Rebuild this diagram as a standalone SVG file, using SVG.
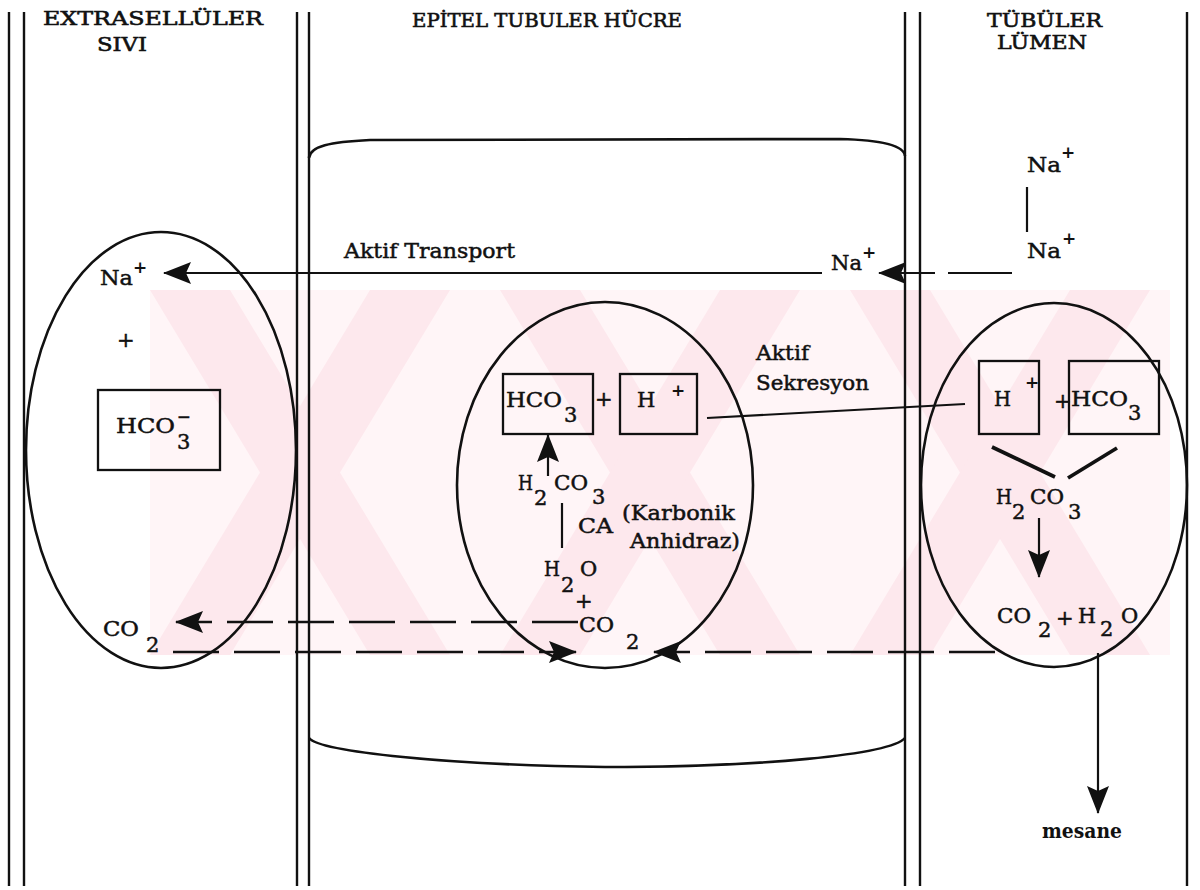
<svg xmlns="http://www.w3.org/2000/svg" width="1200" height="890" viewBox="0 0 1200 890">
<style>
  .t { font-family: "DejaVu Serif", "Liberation Serif", serif; font-size: 21px; fill: #111; stroke: #111; stroke-width: 0.5; }
  .h { font-family: "DejaVu Serif", "Liberation Serif", serif; font-size: 19px; fill: #111; stroke: #111; stroke-width: 0.6; }
  .sup { font-family: "DejaVu Serif", "Liberation Serif", serif; font-size: 17px; font-weight: bold; fill: #111; }
  .b { font-weight: bold; stroke-width: 0; }
  .wall { stroke: #111; stroke-width: 2.4; fill: none; }
  .shape { stroke: #111; stroke-width: 2.6; fill: none; }
  .box { stroke: #111; stroke-width: 2.3; fill: none; }
  .ln { stroke: #111; stroke-width: 2.2; fill: none; }
  .thick { stroke: #111; stroke-width: 3.8; fill: none; }
  .dash { stroke: #111; stroke-width: 2.3; fill: none; stroke-dasharray: 46 15; }
  .wm { fill: #fde8ed; }
</style>
<defs>
  <marker id="ah" markerUnits="userSpaceOnUse" markerWidth="28" markerHeight="22" refX="27" refY="11" orient="auto">
    <path d="M0,0 L28,11 L0,22 L5,11 z" fill="#111"/>
  </marker>
  <clipPath id="wmclip"><rect x="150" y="290" width="1020" height="365"/></clipPath>
</defs>
<rect width="1200" height="890" fill="#fff"/>

<g id="watermark" clip-path="url(#wmclip)">
  <rect x="150" y="290" width="1020" height="365" fill="#fff5f7"/>
  <polygon class="wm" points="150,290 230,290 450,655 370,655"/>
  <polygon class="wm" points="370,290 450,290 230,655 150,655"/>
  <polygon class="wm" points="500,290 580,290 800,655 720,655"/>
  <polygon class="wm" points="720,290 800,290 580,655 500,655"/>
  <polygon class="wm" points="850,290 930,290 1150,655 1070,655"/>
  <polygon class="wm" points="1070,290 1150,290 930,655 850,655"/>
</g>

<g id="walls">
  <line class="wall" x1="9" y1="12" x2="9" y2="886"/>
  <line class="wall" x1="24" y1="12" x2="24" y2="886"/>
  <line class="wall" x1="297" y1="12" x2="297" y2="886"/>
  <line class="wall" x1="309" y1="12" x2="309" y2="886"/>
  <line class="wall" x1="905" y1="12" x2="905" y2="886"/>
  <line class="wall" x1="920" y1="12" x2="920" y2="886"/>
  <line class="wall" x1="1187" y1="12" x2="1187" y2="886"/>
</g>

<g id="titles">
  <text class="h" x="43" y="25" textLength="220" lengthAdjust="spacingAndGlyphs">EXTRASELLÜLER</text>
  <text class="h" x="97" y="51" textLength="50" lengthAdjust="spacingAndGlyphs">SIVI</text>
  <text class="h" x="412" y="27" textLength="270" lengthAdjust="spacingAndGlyphs">EPİTEL TUBULER HÜCRE</text>
  <text class="h" x="987" y="27" textLength="115" lengthAdjust="spacingAndGlyphs">TÜBÜLER</text>
  <text class="h" x="997" y="49" textLength="90" lengthAdjust="spacingAndGlyphs">LÜMEN</text>
</g>

<g id="cell">
  <path class="shape" d="M309,158 C310,146 330,142 370,140 L840,139 C880,140 904,145 905,156"/>
  <path class="shape" d="M309,738 C320,752 450,765 605,767 C760,767 890,755 905,738"/>
</g>

<g id="extracellular">
  <ellipse class="shape" cx="161" cy="450" rx="135" ry="218"/>
  <text class="t" x="100" y="285" textLength="33" lengthAdjust="spacingAndGlyphs">Na</text>
  <text class="sup" x="133" y="273">+</text>
  <text class="t" x="117" y="347">+</text>
  <rect class="box" x="98" y="390" width="122" height="80"/>
  <text class="t" x="116" y="433" textLength="59" lengthAdjust="spacingAndGlyphs">HCO</text>
  <text class="t" x="177" y="449">3</text>
  <text class="t" x="177" y="424" textLength="14" lengthAdjust="spacingAndGlyphs">−</text>
  <text class="t" x="103" y="636" textLength="36" lengthAdjust="spacingAndGlyphs">CO</text>
  <text class="t" x="146" y="652">2</text>
</g>

<g id="epithelial">
  <ellipse class="shape" cx="605" cy="485" rx="148" ry="183"/>
  <text class="t" x="344" y="258" textLength="171" lengthAdjust="spacingAndGlyphs">Aktif Transport</text>
  <text class="t" x="831" y="270" textLength="31" lengthAdjust="spacingAndGlyphs">Na</text>
  <text class="sup" x="862" y="258">+</text>
  <rect class="box" x="503" y="374" width="90" height="60"/>
  <text class="t" x="506" y="407" textLength="56" lengthAdjust="spacingAndGlyphs">HCO</text>
  <text class="t" x="564" y="422">3</text>
  <text class="t" x="595" y="406">+</text>
  <rect class="box" x="620" y="374" width="77" height="60"/>
  <text class="t" x="637" y="407">H</text>
  <text class="sup" x="671" y="396">+</text>
  <text class="t" x="756" y="360" textLength="53" lengthAdjust="spacingAndGlyphs">Aktif</text>
  <text class="t" x="756" y="390" textLength="113" lengthAdjust="spacingAndGlyphs">Sekresyon</text>
  <text class="t" x="518" y="490" textLength="15" lengthAdjust="spacingAndGlyphs">H</text>
  <text class="t" x="534" y="505">2</text>
  <text class="t" x="554" y="490" textLength="34" lengthAdjust="spacingAndGlyphs">CO</text>
  <text class="t" x="592" y="504">3</text>
  <text class="t" x="578" y="533" textLength="35" lengthAdjust="spacingAndGlyphs">CA</text>
  <text class="t" x="622" y="520" textLength="113" lengthAdjust="spacingAndGlyphs">(Karbonik</text>
  <text class="t" x="630" y="548" textLength="110" lengthAdjust="spacingAndGlyphs">Anhidraz)</text>
  <text class="t" x="544" y="576" textLength="16" lengthAdjust="spacingAndGlyphs">H</text>
  <text class="t" x="561" y="592">2</text>
  <text class="t" x="580" y="576">O</text>
  <text class="t" x="575" y="608">+</text>
  <text class="t" x="579" y="632" textLength="35" lengthAdjust="spacingAndGlyphs">CO</text>
  <text class="t" x="626" y="649">2</text>
</g>

<g id="lumen">
  <ellipse class="shape" cx="1054" cy="485" rx="133" ry="182"/>
  <text class="t" x="1027" y="172" textLength="34" lengthAdjust="spacingAndGlyphs">Na</text>
  <text class="sup" x="1061" y="158">+</text>
  <text class="t" x="1027" y="258" textLength="34" lengthAdjust="spacingAndGlyphs">Na</text>
  <text class="sup" x="1062" y="244">+</text>
  <rect class="box" x="979" y="361" width="60" height="73"/>
  <text class="t" x="994" y="406" textLength="17" lengthAdjust="spacingAndGlyphs">H</text>
  <text class="sup" x="1025" y="388">+</text>
  <text class="t" x="1054" y="408">+</text>
  <rect class="box" x="1069" y="361" width="90" height="73"/>
  <text class="t" x="1071" y="406" textLength="57" lengthAdjust="spacingAndGlyphs">HCO</text>
  <text class="t" x="1128" y="420">3</text>
  <text class="t" x="996" y="504" textLength="16" lengthAdjust="spacingAndGlyphs">H</text>
  <text class="t" x="1012" y="519">2</text>
  <text class="t" x="1030" y="504" textLength="34" lengthAdjust="spacingAndGlyphs">CO</text>
  <text class="t" x="1068" y="519">3</text>
  <text class="t" x="997" y="623" textLength="34" lengthAdjust="spacingAndGlyphs">CO</text>
  <text class="t" x="1038" y="637">2</text>
  <text class="t" x="1056" y="625">+</text>
  <text class="t" x="1078" y="623" textLength="18" lengthAdjust="spacingAndGlyphs">H</text>
  <text class="t" x="1100" y="636">2</text>
  <text class="t" x="1121" y="623">O</text>
  <text class="t b" x="1042" y="838" textLength="80" lengthAdjust="spacingAndGlyphs">mesane</text>
</g>

<g id="connectors">
  <line class="ln" x1="822" y1="273" x2="164" y2="273" marker-end="url(#ah)"/>
  <line class="ln" x1="1012" y1="273" x2="879" y2="273" style="stroke-dasharray: 64 13 200" marker-end="url(#ah)"/>
  <line class="ln" x1="1027" y1="187" x2="1027" y2="232"/>
  <line class="ln" x1="707" y1="418" x2="965" y2="404"/>
  <line class="ln" x1="548" y1="476" x2="548" y2="435" marker-end="url(#ah)"/>
  <line class="ln" x1="562" y1="503" x2="562" y2="548"/>
  <line class="dash" x1="578" y1="622" x2="176" y2="622" marker-end="url(#ah)"/>
  <line class="dash" x1="173" y1="652" x2="576" y2="652" marker-end="url(#ah)"/>
  <line class="dash" x1="995" y1="652" x2="654" y2="652" marker-end="url(#ah)"/>
  <line class="thick" x1="992" y1="447" x2="1055" y2="477"/>
  <line class="thick" x1="1068" y1="478" x2="1117" y2="448"/>
  <line class="ln" x1="1039" y1="518" x2="1039" y2="577" marker-end="url(#ah)"/>
  <line class="ln" x1="1098" y1="653" x2="1098" y2="813" marker-end="url(#ah)"/>
</g>
</svg>
